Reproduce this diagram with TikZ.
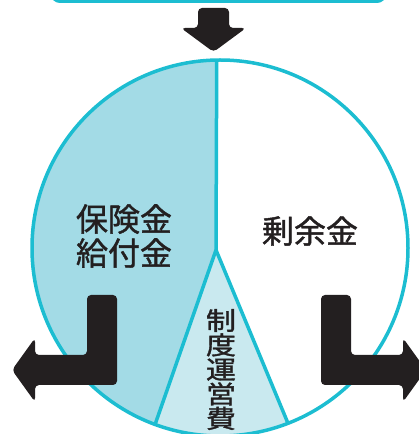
\documentclass[tikz,border=0pt]{standalone}
\usepackage{fontspec}
\usetikzlibrary{calc}
\newfontfamily\jpfont{Noto Sans CJK JP}[FakeBold=1.3]
\newfontfamily\jpwide{Noto Sans CJK JP}[FakeStretch=1.2, FakeBold=1.3]
\definecolor{ringblue}{HTML}{1CBDD1}
\definecolor{payblue}{HTML}{A3DBE6}
\definecolor{costblue}{HTML}{C9E9EF}
\definecolor{arrowink}{HTML}{231F20}

\begin{document}
\begin{tikzpicture}[
		x=1pt, y=1pt,
		ring/.style={draw=ringblue, line width=3.5pt},
		bigarrow/.style={fill=arrowink, rounded corners=4pt},
		jptext/.style={font=\jpfont\fontsize{32}{34}\selectfont, text=arrowink, align=center, inner sep=0pt},
		costtext/.style={font=\jpwide\fontsize{25}{24.5}\selectfont, text=arrowink, align=center, inner sep=0pt},
	]
		\useasboundingbox (0,0) rectangle (419,434);
		\clip (0,0) rectangle (419,434);
		\def\rad{188}
		\coordinate (centre) at (220,186);
		\coordinate (apex) at (216,184);
		\coordinate (top) at ($(centre)+(91:\rad)$);
		\coordinate (lowleft) at ($(centre)+(249.8:\rad)$);
		\coordinate (lowright) at ($(centre)+(291.2:\rad)$);

		% pie pieces
		\fill[payblue] (apex) -- (top) arc[start angle=91, end angle=249.8, radius=\rad] -- cycle;
		\fill[costblue] (apex) -- (lowleft) arc[start angle=249.8, end angle=291.2, radius=\rad] -- cycle;
		\draw[ring] (centre) circle[radius=\rad];
		\draw[ring] (top) -- (apex) -- (lowleft);
		\draw[ring] (apex) -- (lowright);

		% box above
		\draw[ring, line width=3pt, rounded corners=8pt] (52,432.5) rectangle (385,480);

		% arrows
		\fill[bigarrow] (198,426) -- (229,426) -- (229,406) -- (246,406) -- (213.5,382) -- (181,406) -- (198,406) -- cycle;
		\fill[bigarrow] (87,139) -- (117,139) -- (117,49) -- (35,49) -- (35,32) -- (12,64) -- (35,96) -- (35,79) -- (87,79) -- cycle;
		\fill[bigarrow] (351,139) -- (321,139) -- (321,49) -- (403,49) -- (403,32) -- (426,64) -- (403,96) -- (403,79) -- (351,79) -- cycle;

		\node (payout) [jptext] at (124,198) {保険金\\給付金};
		\node (surplus) [jptext] at (310,203) {剰余金};
		\node (cost) [costtext] at (221,64.5) {制\\度\\運\\営\\費};
	\end{tikzpicture}
\end{document}
